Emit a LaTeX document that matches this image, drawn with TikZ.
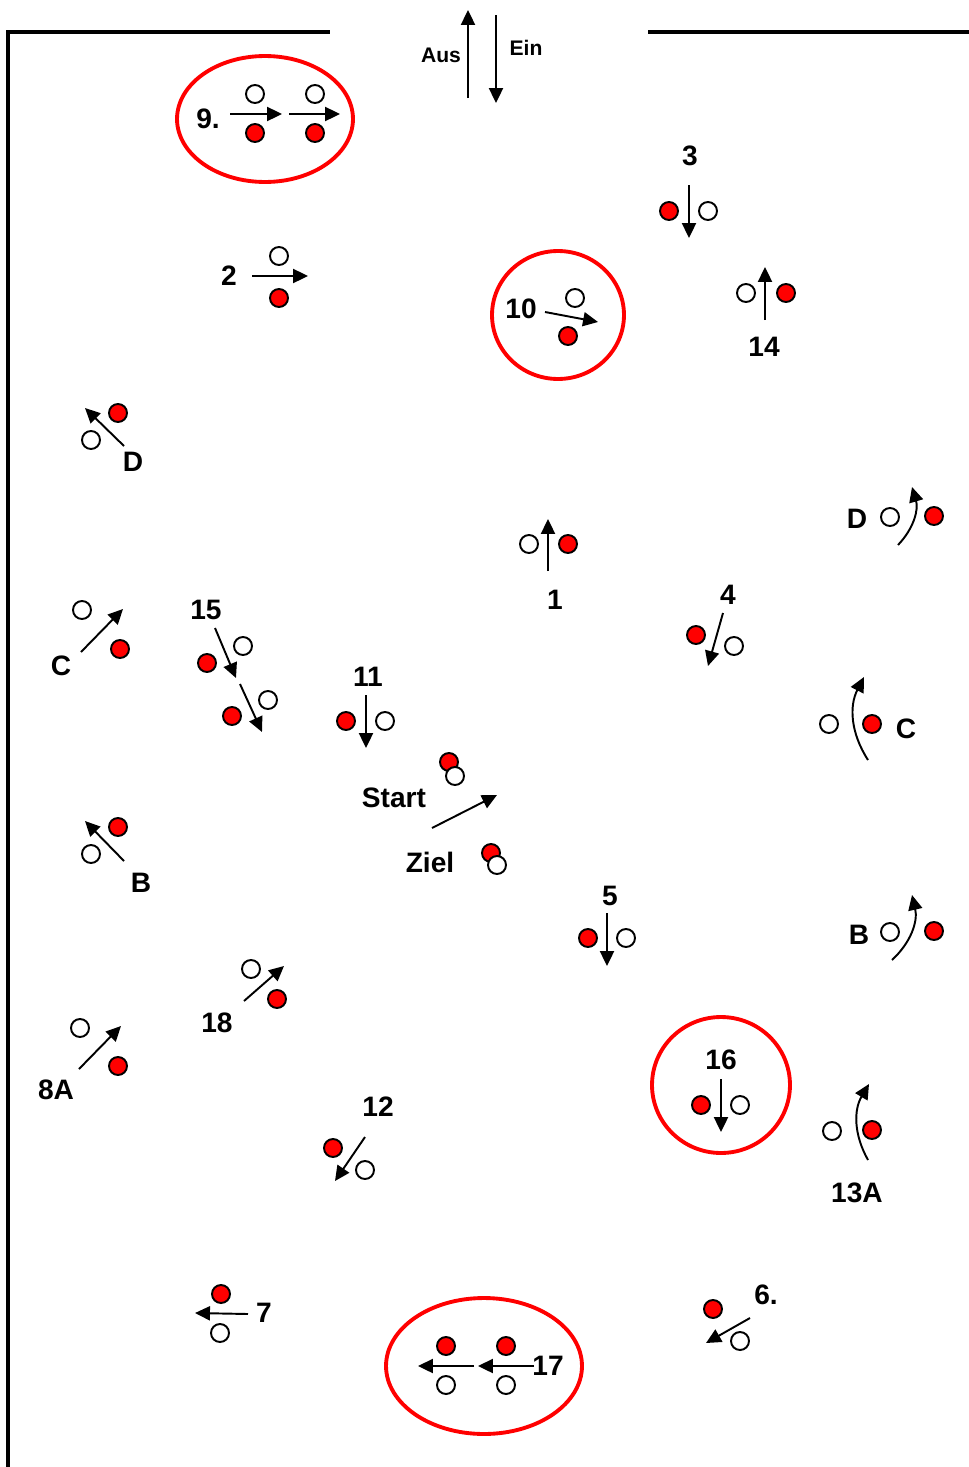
\documentclass[tikz,border=0pt]{standalone}
\usepackage{fontspec}
\setmainfont{Liberation Sans}
\usetikzlibrary{arrows.meta,shapes.geometric}
\tikzset{
  pl/.style={circle,draw,line width=1.1pt,minimum size=0.36cm,inner sep=0pt},
  wp/.style={pl,fill=white},
  rp/.style={pl,fill=red},
  mv/.style={line width=1.1pt,-{Triangle[length=8.5pt,width=8pt]}},
  ring/.style={draw=red,line width=2.2pt},
  lbl/.style={font=\fontsize{16}{18}\selectfont\bfseries,inner sep=0pt},
  sml/.style={font=\fontsize{12}{14}\selectfont\bfseries,inner sep=0pt},
}
\begin{document}
\begin{tikzpicture}[x=0.02cm,y=-0.02cm]
\useasboundingbox (0,0) rectangle (969,1467);

% Walls
\draw[line width=2.2pt] (6,32) -- (330,32);
\draw[line width=2.2pt] (648,32) -- (969,32);
\draw[line width=2.2pt] (8,31) -- (8,1467);

% Entrance
\draw[mv] (468,98) -- (468,10);
\draw[mv] (496,15) -- (496,103);
\node[sml] (aus) at (441,55) {Aus};
\node[sml] (ein) at (526,48) {Ein};

% Rings
\draw[ring] (265,119) ellipse [x radius=1.76cm, y radius=1.26cm];
\draw[ring] (558,315) ellipse [x radius=1.32cm, y radius=1.28cm];
\draw[ring] (721,1085) ellipse [x radius=1.38cm, y radius=1.36cm];
\draw[ring] (484,1366) ellipse [x radius=1.96cm, y radius=1.36cm];

% 9.
\node[lbl] (l9) at (208,119) {9.};
\draw[mv] (230,114) -- (282,114);
\draw[mv] (289,114) -- (340,114);
\node[wp] (w9a) at (255,94) {};
\node[wp] (w9b) at (315,94) {};
\node[rp] (r9a) at (255,133) {};
\node[rp] (r9b) at (315,133) {};

% 3
\node[lbl] (l3) at (690,156) {3};
\draw[mv] (689,185) -- (689,238);
\node[rp] (r3) at (669,211) {};
\node[wp] (w3) at (708,211) {};

% 2
\node[lbl] (l2) at (229,276) {2};
\draw[mv] (252,276) -- (308,276);
\node[wp] (w2) at (279,256) {};
\node[rp] (r2) at (279,298) {};

% 10
\node[lbl] (l10) at (521,309) {10};
\draw[mv] (545,312) -- (598,322);
\node[wp] (w10) at (575,298) {};
\node[rp] (r10) at (568,336) {};

% 14
\draw[mv] (765,320) -- (765,267);
\node[wp] (w14) at (746,293) {};
\node[rp] (r14) at (786,293) {};
\node[lbl] (l14) at (764,347) {14};

% D left
\draw[mv] (124,446) -- (85,408);
\node[rp] (rDl) at (118,413) {};
\node[wp] (wDl) at (91,440) {};
\node[lbl] (lDl) at (133,462) {D};

% D right
\node[lbl] (lDr) at (857,519) {D};
\node[wp] (wDr) at (890,517) {};
\node[rp] (rDr) at (934,516) {};
\draw[mv] (898,545) to[bend right=30] (912,487);

% 1
\draw[mv] (548,571) -- (548,519);
\node[wp] (w1) at (529,544) {};
\node[rp] (r1) at (568,544) {};
\node[lbl] (l1) at (555,600) {1};

% C left
\draw[mv] (81,652) -- (123,609);
\node[wp] (wCl) at (82,610) {};
\node[rp] (rCl) at (120,649) {};
\node[lbl] (lCl) at (61,666) {C};

% 15
\node[lbl] (l15) at (206,610) {15};
\draw[mv] (215,628) -- (236,678);
\node[wp] (w15a) at (243,646) {};
\node[rp] (r15a) at (207,663) {};
\draw[mv] (240,684) -- (262,732);
\node[wp] (w15b) at (268,700) {};
\node[rp] (r15b) at (232,716) {};

% 4
\node[lbl] (l4) at (728,595) {4};
\draw[mv] (723,613) -- (708,666);
\node[rp] (r4) at (696,635) {};
\node[wp] (w4) at (734,646) {};

% 11
\node[lbl] (l11) at (368,677) {11};
\draw[mv] (366,695) -- (366,748);
\node[rp] (r11) at (346,721) {};
\node[wp] (w11) at (385,721) {};

% C right
\node[wp] (wCr) at (829,724) {};
\node[rp] (rCr) at (872,724) {};
\node[lbl] (lCr) at (906,729) {C};
\draw[mv] (868,760) to[bend left=30] (864,677);

% Start / Ziel
\node[rp] (rS) at (449,762) {};
\node[wp] (wS) at (455,776) {};
\node[lbl] (lS) at (394,798) {Start};
\draw[mv] (432,828) -- (497,795);
\node[lbl] (lZ) at (430,862) {Ziel};
\node[rp] (rZ) at (491,853) {};
\node[wp] (wZ) at (497,865) {};

% B left
\draw[mv] (124,861) -- (85,821);
\node[rp] (rBl) at (118,827) {};
\node[wp] (wBl) at (91,854) {};
\node[lbl] (lBl) at (141,883) {B};

% B right
\node[lbl] (lBr) at (859,935) {B};
\node[wp] (wBr) at (890,932) {};
\node[rp] (rBr) at (934,931) {};
\draw[mv] (892,960) to[bend right=30] (912,895);

% 5
\node[lbl] (l5) at (610,896) {5};
\draw[mv] (607,913) -- (607,966);
\node[rp] (r5) at (588,938) {};
\node[wp] (w5) at (626,938) {};

% 18
\draw[mv] (244,1001) -- (284,966);
\node[wp] (w18) at (251,969) {};
\node[rp] (r18) at (277,999) {};
\node[lbl] (l18) at (217,1023) {18};

% 8A
\draw[mv] (79,1069) -- (121,1026);
\node[wp] (w8) at (80,1028) {};
\node[rp] (r8) at (118,1066) {};
\node[lbl] (l8) at (56,1090) {8A};

% 16
\node[lbl] (l16) at (721,1060) {16};
\draw[mv] (721,1079) -- (721,1132);
\node[rp] (r16) at (701,1105) {};
\node[wp] (w16) at (740,1105) {};

% 13A
\node[wp] (w13) at (832,1131) {};
\node[rp] (r13) at (872,1130) {};
\draw[mv] (868,1160) to[bend left=30] (869,1084);
\node[lbl] (l13) at (857,1193) {13A};

% 12
\node[lbl] (l12) at (378,1107) {12};
\draw[mv] (365,1137) -- (335,1181);
\node[rp] (r12) at (333,1148) {};
\node[wp] (w12) at (365,1170) {};

% 7
\node[rp] (r7) at (221,1294) {};
\node[wp] (w7) at (220,1333) {};
\draw[mv] (248,1314) -- (195,1313);
\node[lbl] (l7) at (264,1313) {7};

% 17
\node[rp] (r17a) at (446,1346) {};
\node[rp] (r17b) at (506,1346) {};
\node[wp] (w17a) at (446,1385) {};
\node[wp] (w17b) at (506,1385) {};
\draw[mv] (474,1366) -- (418,1366);
\draw[mv] (534,1366) -- (478,1366);
\node[lbl] (l17) at (548,1366) {17};

% 6.
\node[lbl] (l6) at (766,1295) {6.};
\node[rp] (r6) at (713,1309) {};
\node[wp] (w6) at (740,1341) {};
\draw[mv] (750,1318) -- (706,1343);

\end{tikzpicture}
\end{document}
